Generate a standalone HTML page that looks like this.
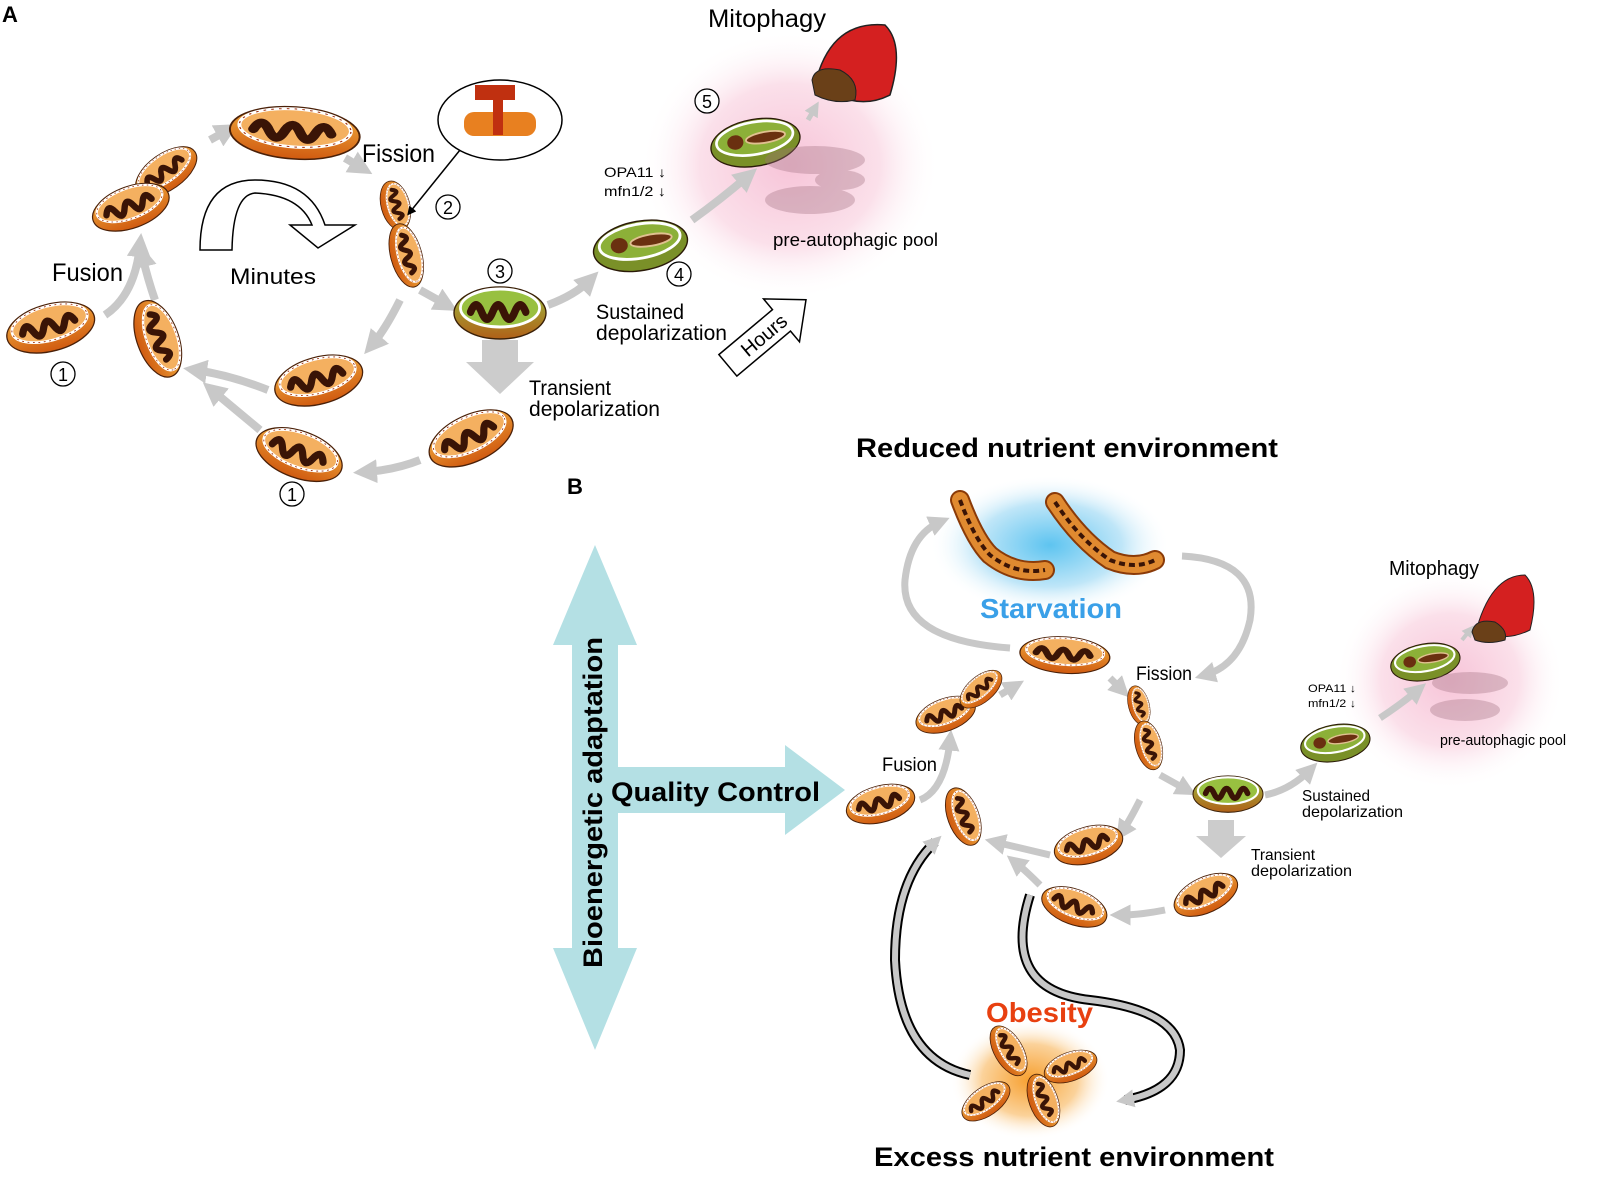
<!DOCTYPE html>
<html><head><meta charset="utf-8"><style>
html,body{margin:0;padding:0;background:#fff}
svg{display:block}
text{font-family:"Liberation Sans",sans-serif}
</style></head><body>
<svg width="1600" height="1193" viewBox="0 0 1600 1193" xmlns="http://www.w3.org/2000/svg">
<defs>
<radialGradient id="pink"><stop offset="0" stop-color="#f7c4d8"/><stop offset="0.6" stop-color="#fbe0ea"/><stop offset="1" stop-color="#fff" stop-opacity="0"/></radialGradient>
<radialGradient id="blue"><stop offset="0" stop-color="#5ec4f0"/><stop offset="0.6" stop-color="#bfe6f8"/><stop offset="1" stop-color="#fff" stop-opacity="0"/></radialGradient>
<radialGradient id="orng"><stop offset="0" stop-color="#f7a030"/><stop offset="0.6" stop-color="#fbd29a"/><stop offset="1" stop-color="#fff" stop-opacity="0"/></radialGradient>
<linearGradient id="og" x1="0" y1="0" x2="0" y2="1"><stop offset="0" stop-color="#f2b040"/><stop offset="1" stop-color="#d05a10"/></linearGradient>
<linearGradient id="gg" x1="0" y1="0" x2="0" y2="1"><stop offset="0" stop-color="#9cc040"/><stop offset="1" stop-color="#b06018"/></linearGradient>
<g id="m">
<ellipse cx="0" cy="3" rx="50" ry="26" fill="url(#og)" stroke="#4a2008" stroke-width="1.5"/>
<ellipse cx="0" cy="-2" rx="43" ry="19" fill="#f4b060" stroke="#fff" stroke-width="3"/>
<ellipse cx="0" cy="-2" rx="43" ry="19" fill="none" stroke="#a03010" stroke-width="1" stroke-dasharray="2 4"/>
<path d="M-32,2 q6,-14 12,0 t12,0 t12,0 t12,0 t12,0" fill="none" stroke="#3a1406" stroke-width="8" stroke-linecap="round"/>
</g>
<g id="g">
<ellipse cx="0" cy="3" rx="50" ry="26" fill="url(#gg)" stroke="#3a2008" stroke-width="1.5"/>
<ellipse cx="0" cy="-2" rx="43" ry="19" fill="#98c040" stroke="#fff" stroke-width="3"/>
<path d="M-32,2 q6,-14 12,0 t12,0 t12,0 t12,0 t12,0" fill="none" stroke="#3a1406" stroke-width="8" stroke-linecap="round"/>
</g>
<g id="dg">
<ellipse cx="0" cy="3" rx="50" ry="26" fill="#7a9028" stroke="#2a1a08" stroke-width="1.5"/>
<ellipse cx="0" cy="-2" rx="43" ry="18" fill="#8cb038" stroke="#fff" stroke-width="3"/>
<ellipse cx="-22" cy="-1" rx="9" ry="8" fill="#6a3010"/>
<ellipse cx="12" cy="-1" rx="22" ry="6" fill="#6a3010" stroke="#e0c090" stroke-width="2"/>
</g>
<marker id="ah" viewBox="0 0 10 10" refX="5" refY="5" markerWidth="3" markerHeight="3" orient="auto"><path d="M0,0 L10,5 L0,10 z" fill="#c8c8c8"/></marker>
<marker id="ab" viewBox="0 0 10 10" refX="5" refY="5" markerWidth="6" markerHeight="6" orient="auto"><path d="M0,0 L10,5 L0,10 z" fill="#000"/></marker>
</defs>

<ellipse cx="790" cy="165" rx="150" ry="135" fill="url(#pink)"/>
<ellipse cx="1450" cy="680" rx="115" ry="110" fill="url(#pink)"/>
<ellipse cx="1050" cy="545" rx="120" ry="70" fill="url(#blue)"/>
<ellipse cx="1030" cy="1080" rx="80" ry="60" fill="url(#orng)"/>

<!-- Panel A -->
<text x="2" y="22" font-size="22" font-weight="bold">A</text>
<g stroke="#c8c8c8" stroke-width="8" fill="none" marker-end="url(#ah)">
<path d="M105,315 Q135,295 140,245"/>
<path d="M155,300 Q148,280 142,255"/>
<path d="M210,140 L228,130"/>
<path d="M345,158 L362,168"/>
<path d="M420,290 L447,305"/>
<path d="M400,300 Q385,330 372,345"/>
<path d="M548,305 Q575,295 590,280"/>
<path d="M692,220 Q720,200 748,176"/>
<path d="M268,390 Q230,375 195,370"/>
<path d="M260,430 Q230,405 212,390"/>
<path d="M420,460 Q395,470 365,472"/>
<path d="M808,120 L815,108" stroke-width="5"/>
</g>
<use href="#m" transform="translate(50,325) rotate(-15) scale(0.9)"/>
<use href="#m" transform="translate(165,170) rotate(-35) scale(0.7)"/>
<use href="#m" transform="translate(130,205) rotate(-20) scale(0.8)"/>
<use href="#m" transform="translate(295,130) rotate(4) scale(1.3,1)"/>
<use href="#m" transform="translate(160,338) rotate(70) scale(0.8)"/>
<use href="#m" transform="translate(397,205) rotate(75) scale(0.5,0.55)"/>
<use href="#m" transform="translate(408,255) rotate(75) scale(0.65,0.6)"/>
<use href="#g" transform="translate(500,310) scale(0.92,1)"/>
<use href="#m" transform="translate(318,378) rotate(-15) scale(0.9)"/>
<use href="#m" transform="translate(300,452) rotate(20) scale(0.9)"/>
<use href="#m" transform="translate(470,436) rotate(-25) scale(0.9)"/>
<use href="#dg" transform="translate(640,243) rotate(-10) scale(0.95)"/>
<use href="#dg" transform="translate(755,140) rotate(-10) scale(0.9)"/>
<g opacity="0.35" fill="#a07080"><ellipse cx="815" cy="160" rx="50" ry="14"/><ellipse cx="810" cy="200" rx="45" ry="14"/><ellipse cx="840" cy="180" rx="25" ry="10"/></g>
<path d="M815,85 Q830,20 885,25 Q905,45 890,95 Q870,105 850,100 L825,95 Z" fill="#d42020" stroke="#222" stroke-width="1.5"/>
<path d="M812,80 Q815,65 840,70 Q860,80 855,100 Q835,105 815,95 Z" fill="#6a4018" stroke="#222"/>
<ellipse cx="500" cy="120" rx="62" ry="40" fill="#fff" stroke="#000" stroke-width="1.5"/>
<rect x="464" y="112" width="72" height="24" rx="10" fill="#e88020"/>
<path d="M475,85 h40 v15 h-12 v35 h-10 v-35 h-18z" fill="#c03010"/>
<line x1="460" y1="150" x2="410" y2="212" stroke="#000" stroke-width="1.5" marker-end="url(#ab)"/>
<g lengthAdjust="spacingAndGlyphs">
<text x="708" y="27" font-size="25" textLength="118" lengthAdjust="spacingAndGlyphs">Mitophagy</text>
<text x="362" y="162" font-size="25" textLength="73" lengthAdjust="spacingAndGlyphs">Fission</text>
<text x="52" y="281" font-size="25" textLength="71" lengthAdjust="spacingAndGlyphs">Fusion</text>
<text x="230" y="284" font-size="22" textLength="86" lengthAdjust="spacingAndGlyphs">Minutes</text>
<text x="529" y="395" font-size="21" textLength="82" lengthAdjust="spacingAndGlyphs">Transient</text>
<text x="529" y="416" font-size="21" textLength="131" lengthAdjust="spacingAndGlyphs">depolarization</text>
<text x="596" y="319" font-size="21" textLength="88" lengthAdjust="spacingAndGlyphs">Sustained</text>
<text x="596" y="340" font-size="21" textLength="131" lengthAdjust="spacingAndGlyphs">depolarization</text>
<text x="604" y="177" font-size="14" textLength="62" lengthAdjust="spacingAndGlyphs">OPA11 ↓</text>
<text x="604" y="196" font-size="14" textLength="62" lengthAdjust="spacingAndGlyphs">mfn1/2 ↓</text>
<text x="773" y="246" font-size="18" textLength="165" lengthAdjust="spacingAndGlyphs">pre-autophagic pool</text>
</g>
<g fill="#fff" stroke="#000" stroke-width="1.3">
<circle cx="63" cy="374" r="12"/><circle cx="448" cy="207" r="12"/><circle cx="500" cy="271" r="12"/><circle cx="679" cy="274" r="12"/><circle cx="707" cy="101" r="12"/><circle cx="292" cy="494" r="12"/>
</g>
<g font-size="18" text-anchor="middle"><text x="63" y="381">1</text><text x="448" y="214">2</text><text x="500" y="278">3</text><text x="679" y="281">4</text><text x="707" y="108">5</text><text x="292" y="501">1</text></g>
<path d="M200,250 Q200,180 255,180 Q310,180 325,225 L355,225 L318,248 L290,225 L312,225 Q300,195 255,193 Q233,195 232,250 Z" fill="#fff" stroke="#000" stroke-width="1.5"/>
<path d="M482,340 h36 v22 h16 l-34,32 l-34,-32 h16z" fill="#ccc"/>
<g transform="translate(770,330) rotate(-40)"><path d="M-55,-14 h70 v-14 l32,28 l-32,28 v-14 h-70z" fill="#fff" stroke="#000" stroke-width="1.5"/><text x="-8" y="7" font-size="20" text-anchor="middle">Hours</text></g>

<!-- Panel B -->
<text x="567" y="494" font-size="22" font-weight="bold">B</text>
<text x="856" y="457" font-size="27" font-weight="bold" textLength="422" lengthAdjust="spacingAndGlyphs">Reduced nutrient environment</text>
<text x="874" y="1166" font-size="27" font-weight="bold" textLength="400" lengthAdjust="spacingAndGlyphs">Excess nutrient environment</text>
<text x="980" y="618" font-size="28" font-weight="bold" fill="#3aa0e8" textLength="142" lengthAdjust="spacingAndGlyphs">Starvation</text>
<text x="986" y="1022" font-size="28" font-weight="bold" fill="#e84010" textLength="107" lengthAdjust="spacingAndGlyphs">Obesity</text>
<path d="M595,545 L637,645 L618,645 L618,767 L785,767 L785,745 L845,790 L785,835 L785,813 L618,813 L618,948 L637,948 L595,1050 L553,948 L572,948 L572,645 L553,645 Z" fill="#b4e0e4"/>
<text x="611" y="801" font-size="27" font-weight="bold" textLength="209" lengthAdjust="spacingAndGlyphs">Quality Control</text>
<text transform="translate(602,968) rotate(-90)" font-size="27" font-weight="bold" textLength="331" lengthAdjust="spacingAndGlyphs">Bioenergetic adaptation</text>

<g stroke="#c8c8c8" stroke-width="7" fill="none" marker-end="url(#ah)">
<path d="M1010,648 Q900,640 905,580 Q910,535 940,522"/>
<path d="M1182,556 Q1260,560 1250,620 Q1240,665 1205,675"/>
<path d="M920,800 Q945,790 950,740"/>
<path d="M1000,695 L1015,686"/>
<path d="M1110,678 L1122,690"/>
<path d="M1160,775 L1187,790"/>
<path d="M1140,800 Q1130,820 1122,832"/>
<path d="M1265,795 Q1290,790 1310,770"/>
<path d="M1380,718 Q1400,705 1418,690"/>
<path d="M1050,855 Q1020,848 995,842"/>
<path d="M1040,885 Q1025,870 1015,862"/>
<path d="M1165,910 Q1140,915 1120,915"/>
<path d="M1462,640 L1470,630" stroke-width="4"/>
</g>
<g stroke="#000" stroke-width="10" fill="none"><path d="M970,1075 Q900,1060 895,960 Q895,880 935,842"/><path d="M1030,895 Q1000,990 1090,1000 Q1175,1010 1180,1050 Q1180,1090 1125,1100"/></g>
<g stroke="#c8c8c8" stroke-width="6" fill="none" marker-end="url(#ah)"><path d="M970,1075 Q900,1060 895,960 Q895,880 935,842"/><path d="M1030,895 Q1000,990 1090,1000 Q1175,1010 1180,1050 Q1180,1090 1125,1100"/></g>

<g stroke="#8a3a08" stroke-width="20" fill="none" stroke-linecap="round"><path d="M960,500 Q975,540 990,555 Q1015,575 1045,570"/><path d="M1055,502 Q1080,540 1110,560 Q1135,570 1155,560"/></g>
<g stroke="#e08a30" stroke-width="16" fill="none" stroke-linecap="round"><path d="M960,500 Q975,540 990,555 Q1015,575 1045,570"/><path d="M1055,502 Q1080,540 1110,560 Q1135,570 1155,560"/></g>
<g stroke="#3a1406" stroke-width="4" fill="none" stroke-dasharray="6 4"><path d="M960,500 Q975,540 990,555 Q1015,575 1045,570"/><path d="M1055,502 Q1080,540 1110,560 Q1135,570 1155,560"/></g>

<use href="#m" transform="translate(880,802) rotate(-15) scale(0.7)"/>
<use href="#m" transform="translate(945,713) rotate(-20) scale(0.62)"/>
<use href="#m" transform="translate(980,688) rotate(-40) scale(0.5)"/>
<use href="#m" transform="translate(1065,653) rotate(4) scale(0.9,0.7)"/>
<use href="#m" transform="translate(965,816) rotate(70) scale(0.6)"/>
<use href="#m" transform="translate(1140,705) rotate(75) scale(0.4)"/>
<use href="#m" transform="translate(1150,745) rotate(75) scale(0.5)"/>
<use href="#g" transform="translate(1228,792) scale(0.7)"/>
<use href="#m" transform="translate(1088,843) rotate(-15) scale(0.7)"/>
<use href="#m" transform="translate(1075,905) rotate(20) scale(0.68)"/>
<use href="#m" transform="translate(1205,893) rotate(-25) scale(0.68)"/>
<use href="#dg" transform="translate(1335,741) rotate(-10) scale(0.7)"/>
<use href="#dg" transform="translate(1425,660) rotate(-10) scale(0.7)"/>
<g opacity="0.35" fill="#a07080"><ellipse cx="1470" cy="683" rx="38" ry="11"/><ellipse cx="1465" cy="710" rx="35" ry="11"/></g>
<path d="M1475,635 Q1490,575 1525,575 Q1540,590 1530,630 Q1510,640 1490,635 Z" fill="#d42020" stroke="#222"/>
<path d="M1472,632 Q1475,618 1495,622 Q1508,630 1505,640 Q1488,645 1475,640 Z" fill="#6a4018" stroke="#222"/>
<use href="#m" transform="translate(1010,1050) rotate(60) scale(0.55)"/>
<use href="#m" transform="translate(1070,1065) rotate(-20) scale(0.55)"/>
<use href="#m" transform="translate(985,1100) rotate(-35) scale(0.55)"/>
<use href="#m" transform="translate(1045,1100) rotate(70) scale(0.55)"/>

<text x="1389" y="575" font-size="20" textLength="90" lengthAdjust="spacingAndGlyphs">Mitophagy</text>
<text x="1136" y="680" font-size="19" textLength="56" lengthAdjust="spacingAndGlyphs">Fission</text>
<text x="882" y="771" font-size="19" textLength="55" lengthAdjust="spacingAndGlyphs">Fusion</text>
<text x="1251" y="860" font-size="16" textLength="64" lengthAdjust="spacingAndGlyphs">Transient</text>
<text x="1251" y="876" font-size="16" textLength="101" lengthAdjust="spacingAndGlyphs">depolarization</text>
<text x="1302" y="801" font-size="16" textLength="68" lengthAdjust="spacingAndGlyphs">Sustained</text>
<text x="1302" y="817" font-size="16" textLength="101" lengthAdjust="spacingAndGlyphs">depolarization</text>
<text x="1308" y="692" font-size="11" textLength="48" lengthAdjust="spacingAndGlyphs">OPA11 ↓</text>
<text x="1308" y="707" font-size="11" textLength="48" lengthAdjust="spacingAndGlyphs">mfn1/2 ↓</text>
<text x="1440" y="745" font-size="15" textLength="126" lengthAdjust="spacingAndGlyphs">pre-autophagic pool</text>
<path d="M1208,820 h26 v16 h12 l-25,22 l-25,-22 h12z" fill="#ccc"/>
</svg>
</body></html>
